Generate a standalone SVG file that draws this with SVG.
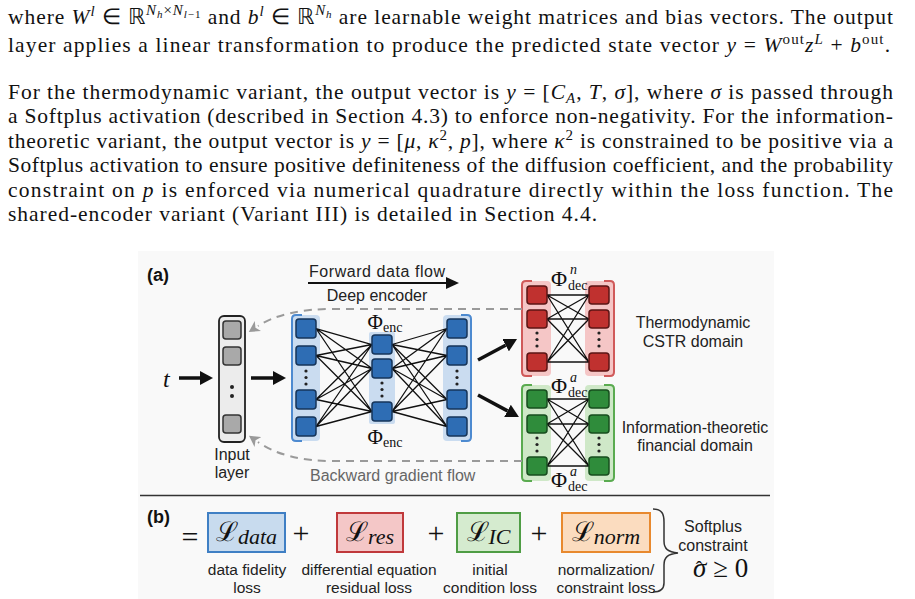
<svg xmlns="http://www.w3.org/2000/svg" width="915" height="599" viewBox="0 0 915 599">
<defs>
<style>
.p{font-family:"Liberation Serif","Times New Roman",serif;font-size:21.5px;fill:#111}
.i{font-style:italic}
.s{font-size:15px}
.ss{font-size:11px}
.lab{font-family:"Liberation Sans",Arial,sans-serif;font-size:16px;fill:#222}
.sm{font-size:15.5px}
.bold{font-family:"Liberation Sans",Arial,sans-serif;font-size:18px;font-weight:bold;fill:#111}
.math{font-family:"Liberation Serif","DejaVu Serif",serif;fill:#111}
.bn{fill:#2e6db4;stroke:#16355a;stroke-width:1.5}
.rn{fill:#c0312f;stroke:#5b1515;stroke-width:1.5}
.gn{fill:#2f8c3b;stroke:#174d1e;stroke-width:1.5}
.inn{fill:#a9a9a9;stroke:#333;stroke-width:1.5}
.w{fill:none;stroke:#111;stroke-width:1.3}
.dash{fill:none;stroke:#9a9a9a;stroke-width:2;stroke-dasharray:8 6}
.thick{stroke:#111;stroke-width:3.5;fill:none}
.bband{fill:#cadcf0}
.rband{fill:#f5c6c6}
.gband{fill:#cfe8c8}
.bbr{fill:none;stroke:#4d8ad0;stroke-width:2}
.rbr{fill:none;stroke:#d05a5a;stroke-width:2}
.gbr{fill:none;stroke:#5aab50;stroke-width:2}
.dot{fill:#222}
</style>
<marker id="ahBig" markerUnits="userSpaceOnUse" markerWidth="14" markerHeight="14" refX="0" refY="7" orient="auto">
<path d="M0,0 L13,7 L0,14 z" fill="#111"/>
</marker>
<marker id="ahMid" markerUnits="userSpaceOnUse" markerWidth="14" markerHeight="12" refX="0" refY="6" orient="auto">
<path d="M0,0 L13,6 L0,12 z" fill="#111"/>
</marker>
<marker id="ahGray" markerUnits="userSpaceOnUse" markerWidth="12" markerHeight="12" refX="0" refY="6" orient="auto">
<path d="M0,0 L11,6 L0,12 L3,6 z" fill="#9a9a9a"/>
</marker>
</defs>
<rect x="0" y="0" width="915" height="599" fill="#ffffff"/>

<!-- Paragraph text -->
<g id="paragraph">
<text class="p" x="8" y="24" textLength="885" lengthAdjust="spacing">where <tspan class="i">W</tspan><tspan class="s i" dy="-8">l</tspan><tspan dy="8"> ∈ ℝ</tspan><tspan class="s i" dy="-9">N</tspan><tspan class="ss i" dy="3">h</tspan><tspan class="s" dy="-3">×</tspan><tspan class="s i">N</tspan><tspan class="ss i" dy="3">l</tspan><tspan class="ss">−1</tspan><tspan dy="6"> and </tspan><tspan class="i">b</tspan><tspan class="s i" dy="-8">l</tspan><tspan dy="8"> ∈ ℝ</tspan><tspan class="s i" dy="-9">N</tspan><tspan class="ss i" dy="3">h</tspan><tspan dy="6"> are learnable weight matrices and bias vectors. The output</tspan></text>
<text class="p" x="8" y="52" textLength="882" lengthAdjust="spacing">layer applies a linear transformation to produce the predicted state vector <tspan class="i">y</tspan> = <tspan class="i">W</tspan><tspan class="s" dy="-8">out</tspan><tspan class="i" dy="8">z</tspan><tspan class="s i" dy="-8">L</tspan><tspan dy="8"> + </tspan><tspan class="i">b</tspan><tspan class="s" dy="-8">out</tspan><tspan dy="8">.</tspan></text>
<text class="p" x="8" y="98.5" textLength="885" lengthAdjust="spacing">For the thermodynamic variant, the output vector is <tspan class="i">y</tspan> = [<tspan class="i">C</tspan><tspan class="s i" dy="4">A</tspan><tspan dy="-4">, </tspan><tspan class="i">T</tspan>, <tspan class="i">σ</tspan>], where <tspan class="i">σ</tspan> is passed through</text>
<text class="p" x="8" y="123" textLength="885" lengthAdjust="spacing">a Softplus activation (described in Section 4.3) to enforce non-negativity. For the information-</text>
<text class="p" x="8" y="147.5" textLength="885" lengthAdjust="spacing">theoretic variant, the output vector is <tspan class="i">y</tspan> = [<tspan class="i">μ</tspan>, <tspan class="i">κ</tspan><tspan class="s" dy="-8">2</tspan><tspan dy="8">, </tspan><tspan class="i">p</tspan>], where <tspan class="i">κ</tspan><tspan class="s" dy="-8">2</tspan><tspan dy="8"> is constrained to be positive via a</tspan></text>
<text class="p" x="8" y="172" textLength="885" lengthAdjust="spacing">Softplus activation to ensure positive definiteness of the diffusion coefficient, and the probability</text>
<text class="p" x="8" y="196.5" textLength="885" lengthAdjust="spacing">constraint on <tspan class="i">p</tspan> is enforced via numerical quadrature directly within the loss function.  The</text>
<text class="p" x="8" y="221" textLength="589" lengthAdjust="spacing">shared-encoder variant (Variant III) is detailed in Section 4.4.</text>
</g>

<!-- Figure background -->
<rect x="138" y="251" width="636" height="348" fill="#f9f9f9"/>

<text class="bold" x="147" y="281">(a)</text>

<!-- Layer bands -->
<g id="bands">
<rect class="bband" x="292" y="315" width="28" height="126" rx="4"/>
<path class="bbr" d="M302 315 L296 315 Q292 315 292 319 L292 437 Q292 441 296 441 L302 441"/>
<rect class="bband" x="369" y="332" width="26" height="92" rx="2"/>
<rect class="bband" x="443" y="315" width="28" height="126" rx="4"/>
<path class="bbr" d="M461 315 L467 315 Q471 315 471 319 L471 437 Q471 441 467 441 L461 441"/>
<rect class="rband" x="522" y="281" width="29" height="95" rx="4"/>
<path class="rbr" d="M532 281 L526 281 Q522 281 522 285 L522 372 Q522 376 526 376 L532 376"/>
<rect class="rband" x="585" y="281" width="29" height="95" rx="4"/>
<path class="rbr" d="M604 281 L610 281 Q614 281 614 285 L614 372 Q614 376 610 376 L604 376"/>
<rect class="gband" x="522" y="385" width="29" height="96" rx="4"/>
<path class="gbr" d="M532 385 L526 385 Q522 385 522 389 L522 477 Q522 481 526 481 L532 481"/>
<rect class="gband" x="585" y="385" width="29" height="96" rx="4"/>
<path class="gbr" d="M604 385 L610 385 Q614 385 614 389 L614 477 Q614 481 610 481 L604 481"/>
</g>

<!-- Connectors -->
<g id="connectors">
<path class="w" d="M316 328.5L372 344.5M316 328.5L372 368.5M316 328.5L372 411.5M316 355.5L372 344.5M316 355.5L372 368.5M316 355.5L372 411.5M316 399.5L372 344.5M316 399.5L372 368.5M316 399.5L372 411.5M316 426.5L372 344.5M316 426.5L372 368.5M316 426.5L372 411.5"/>
<path class="w" d="M392 344.5L447 328.5M392 344.5L447 355.5M392 344.5L447 399.5M392 344.5L447 426.5M392 368.5L447 328.5M392 368.5L447 355.5M392 368.5L447 399.5M392 368.5L447 426.5M392 411.5L447 328.5M392 411.5L447 355.5M392 411.5L447 399.5M392 411.5L447 426.5"/>
<path class="w" d="M547 295L589 295M547 295L589 319M547 295L589 362M547 319L589 295M547 319L589 319M547 319L589 362M547 362L589 295M547 362L589 319M547 362L589 362"/>
<path class="w" d="M547 399L589 399M547 399L589 424M547 399L589 466M547 424L589 399M547 424L589 424M547 424L589 466M547 466L589 399M547 466L589 424M547 466L589 466"/>
<line class="thick" x1="179" y1="378" x2="200" y2="378" marker-end="url(#ahBig)"/>
<line class="thick" x1="251" y1="378" x2="273" y2="378" marker-end="url(#ahBig)"/>
<line class="thick" x1="478" y1="360" x2="505.6" y2="345.2" marker-end="url(#ahBig)"/>
<line class="thick" x1="478" y1="395" x2="507.5" y2="410.9" marker-end="url(#ahBig)"/>
<line x1="308" y1="283" x2="446" y2="283" stroke="#111" stroke-width="2" marker-end="url(#ahMid)"/>
<path class="dash" d="M522 309 L332 309 C300 309 275 315 258 326" marker-end="url(#ahGray)"/>
<path class="dash" d="M522 461 L332 461 C300 461 275 454 258 442" marker-end="url(#ahGray)"/>
</g>

<!-- Input -->
<text class="math i" x="163" y="387" font-size="24">t</text>
<g id="input-layer">
<rect x="219" y="316" width="26" height="126" rx="5" fill="#ececec" stroke="#222" stroke-width="1.8"/>
<rect class="inn" x="223" y="321" width="18" height="18" rx="3"/>
<rect class="inn" x="223" y="347" width="18" height="18" rx="3"/>
<circle class="dot" cx="232" cy="387" r="2"/>
<circle class="dot" cx="232" cy="396" r="2"/>
<rect class="inn" x="223" y="415" width="18" height="18" rx="3"/>
<text class="lab" x="232" y="460" text-anchor="middle">Input</text>
<text class="lab" x="232" y="478" text-anchor="middle">layer</text>
</g>

<!-- Encoder -->
<g id="encoder-layer1">
<rect class="bn" x="296" y="319" width="20" height="19" rx="3"/>
<rect class="bn" x="296" y="346" width="20" height="19" rx="3"/>
<circle class="dot" cx="306" cy="371" r="1.6"/><circle class="dot" cx="306" cy="377.5" r="1.6"/><circle class="dot" cx="306" cy="384" r="1.6"/>
<rect class="bn" x="296" y="390" width="20" height="19" rx="3"/>
<rect class="bn" x="296" y="417" width="20" height="19" rx="3"/>
</g>
<g id="encoder-layer2">
<rect class="bn" x="372" y="335" width="20" height="19" rx="3"/>
<rect class="bn" x="372" y="359" width="20" height="19" rx="3"/>
<circle class="dot" cx="382" cy="383" r="1.6"/><circle class="dot" cx="382" cy="389.5" r="1.6"/><circle class="dot" cx="382" cy="396" r="1.6"/>
<rect class="bn" x="372" y="402" width="20" height="19" rx="3"/>
<text class="math" x="385" y="329" font-size="21" text-anchor="middle">Φ<tspan font-size="14" dy="3">enc</tspan></text>
<text class="math" x="385" y="444" font-size="21" text-anchor="middle">Φ<tspan font-size="14" dy="3">enc</tspan></text>
</g>
<g id="encoder-layer3">
<rect class="bn" x="447" y="319" width="20" height="19" rx="3"/>
<rect class="bn" x="447" y="346" width="20" height="19" rx="3"/>
<circle class="dot" cx="457" cy="371" r="1.6"/><circle class="dot" cx="457" cy="377.5" r="1.6"/><circle class="dot" cx="457" cy="384" r="1.6"/>
<rect class="bn" x="447" y="390" width="20" height="19" rx="3"/>
<rect class="bn" x="447" y="417" width="20" height="19" rx="3"/>
</g>
<text class="lab" x="309" y="277" textLength="136">Forward data flow</text>
<text class="lab" x="377" y="301" text-anchor="middle">Deep encoder</text>
<text class="lab" x="310" y="481" style="fill:#666">Backward gradient flow</text>

<!-- Thermodynamic decoder -->
<g id="decoder-thermo">
<rect class="rn" x="527" y="286" width="20" height="18" rx="3"/>
<rect class="rn" x="527" y="310" width="20" height="18" rx="3"/>
<circle class="dot" cx="537" cy="333" r="1.6"/><circle class="dot" cx="537" cy="339.5" r="1.6"/><circle class="dot" cx="537" cy="346" r="1.6"/>
<rect class="rn" x="527" y="353" width="20" height="18" rx="3"/>
<rect class="rn" x="589" y="286" width="20" height="18" rx="3"/>
<rect class="rn" x="589" y="310" width="20" height="18" rx="3"/>
<circle class="dot" cx="599" cy="333" r="1.6"/><circle class="dot" cx="599" cy="339.5" r="1.6"/><circle class="dot" cx="599" cy="346" r="1.6"/>
<rect class="rn" x="589" y="353" width="20" height="18" rx="3"/>
<text class="math" x="551" y="286" font-size="22">Φ</text>
<text class="math i" x="570" y="274" font-size="14">n</text>
<text class="math" x="568" y="290" font-size="14">dec</text>
<text class="lab" x="693" y="328" text-anchor="middle">Thermodynamic</text>
<text class="lab" x="693" y="347" text-anchor="middle">CSTR domain</text>
</g>

<!-- Information-theoretic decoder -->
<g id="decoder-info">
<rect class="gn" x="527" y="390" width="20" height="18" rx="3"/>
<rect class="gn" x="527" y="415" width="20" height="18" rx="3"/>
<circle class="dot" cx="537" cy="438" r="1.6"/><circle class="dot" cx="537" cy="444.5" r="1.6"/><circle class="dot" cx="537" cy="451" r="1.6"/>
<rect class="gn" x="527" y="457" width="20" height="18" rx="3"/>
<rect class="gn" x="589" y="390" width="20" height="18" rx="3"/>
<rect class="gn" x="589" y="415" width="20" height="18" rx="3"/>
<circle class="dot" cx="599" cy="438" r="1.6"/><circle class="dot" cx="599" cy="444.5" r="1.6"/><circle class="dot" cx="599" cy="451" r="1.6"/>
<rect class="gn" x="589" y="457" width="20" height="18" rx="3"/>
<text class="math" x="551" y="393" font-size="22">Φ</text>
<text class="math i" x="570" y="382" font-size="14">a</text>
<text class="math" x="568" y="397" font-size="14">dec</text>
<text class="math" x="551" y="487" font-size="22">Φ</text>
<text class="math i" x="570" y="476" font-size="14">a</text>
<text class="math" x="568" y="491" font-size="14">dec</text>
<text class="lab" x="695" y="433" text-anchor="middle">Information-theoretic</text>
<text class="lab" x="695" y="451" text-anchor="middle">financial domain</text>
</g>

<line x1="140" y1="495.5" x2="770" y2="495.5" stroke="#333" stroke-width="1.6"/>

<!-- (b) loss -->
<text class="bold" x="147" y="523">(b)</text>
<text class="math" x="190" y="547" font-size="30" text-anchor="middle">=</text>
<g id="loss-data">
<rect x="208" y="513" width="77" height="39" fill="#c8dbee" stroke="#3f7fc4" stroke-width="2"/>
<text class="math" x="246.5" y="541" font-size="27" text-anchor="middle"><tspan font-family="DejaVu Serif">ℒ</tspan><tspan class="i" font-size="22" dy="3">data</tspan></text>
<text class="lab sm" x="247" y="575" text-anchor="middle">data fidelity</text>
<text class="lab sm" x="247" y="593" text-anchor="middle">loss</text>
</g>
<text class="math" x="301" y="543" font-size="30" text-anchor="middle">+</text>
<g id="loss-res">
<rect x="337" y="513" width="66" height="39" fill="#f4c7c7" stroke="#c0393b" stroke-width="2"/>
<text class="math" x="370" y="541" font-size="27" text-anchor="middle"><tspan font-family="DejaVu Serif">ℒ</tspan><tspan class="i" font-size="22" dy="3">res</tspan></text>
<text class="lab sm" x="369" y="575" text-anchor="middle">differential equation</text>
<text class="lab sm" x="369" y="593" text-anchor="middle">residual loss</text>
</g>
<text class="math" x="436" y="543" font-size="30" text-anchor="middle">+</text>
<g id="loss-ic">
<rect x="457" y="513" width="63" height="39" fill="#d5ebcf" stroke="#4f9d45" stroke-width="2"/>
<text class="math" x="488.5" y="541" font-size="27" text-anchor="middle"><tspan font-family="DejaVu Serif">ℒ</tspan><tspan class="i" font-size="22" dy="3">IC</tspan></text>
<text class="lab sm" x="490" y="575" text-anchor="middle">initial</text>
<text class="lab sm" x="490" y="593" text-anchor="middle">condition loss</text>
</g>
<text class="math" x="539" y="543" font-size="30" text-anchor="middle">+</text>
<g id="loss-norm">
<rect x="562" y="513" width="88" height="39" fill="#fbdcbf" stroke="#e8892e" stroke-width="2"/>
<text class="math" x="606" y="541" font-size="27" text-anchor="middle"><tspan font-family="DejaVu Serif">ℒ</tspan><tspan class="i" font-size="22" dy="3">norm</tspan></text>
<text class="lab sm" x="606" y="575" text-anchor="middle">normalization/</text>
<text class="lab sm" x="606" y="593" text-anchor="middle">constraint loss</text>
</g>
<g id="softplus">
<path d="M653 509 C662 509 664 514 664 522 L664 541 C664 549 668 552 678 553 C668 554 664 557 664 565 L664 583 C664 589 661 592 653 592" fill="none" stroke="#333" stroke-width="1.5"/>
<text class="lab" x="713" y="532" text-anchor="middle">Softplus</text>
<text class="lab" x="713" y="551" text-anchor="middle">constraint</text>
<text class="math" x="693" y="577" font-size="27"><tspan class="i">σ</tspan><tspan font-size="20" dx="-10.5" dy="-1">ˆ</tspan><tspan dx="4" dy="1"> ≥ 0</tspan></text>
</g>
</svg>
